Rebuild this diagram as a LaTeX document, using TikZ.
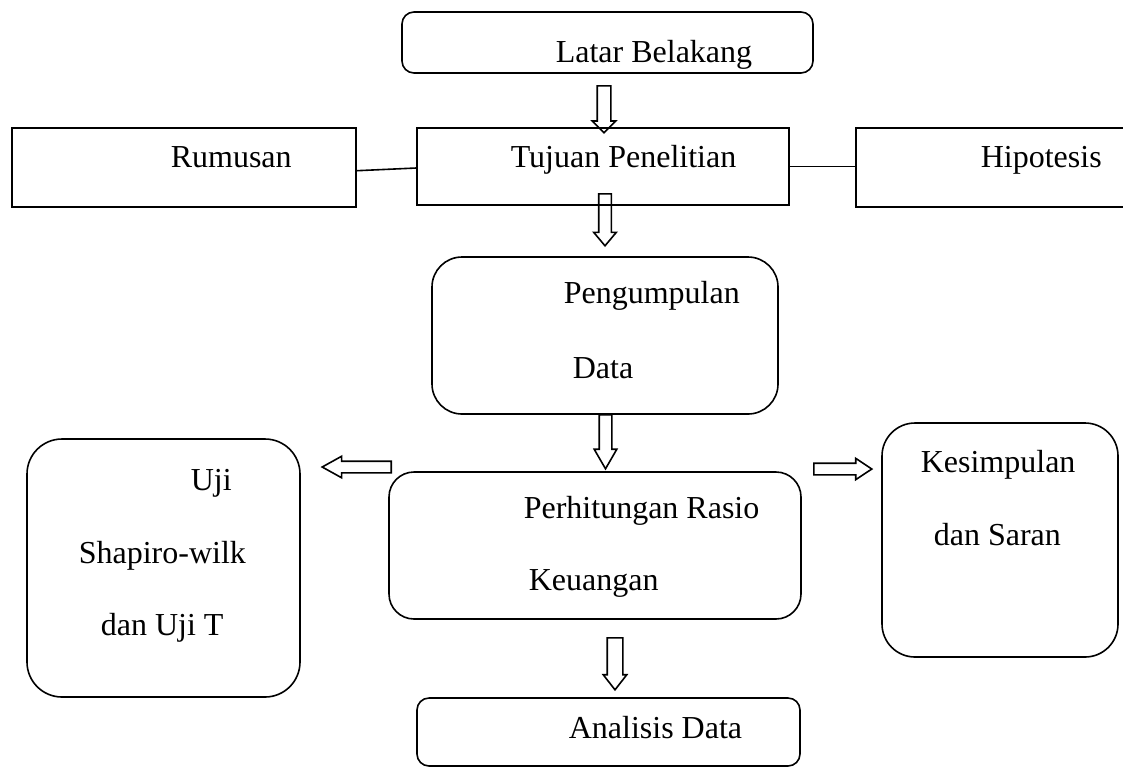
\documentclass[tikz,border=0pt]{standalone}
\usepackage{fontspec}
\setmainfont{Liberation Serif}
\usetikzlibrary{shapes.arrows,fit}

\begin{document}
\begin{tikzpicture}[x=0.5pt,y=-0.5pt,line width=0.8pt,
  box/.style={draw,inner sep=0pt},
  rbox/.style={box,rounded corners=#1},
  txt/.style={inner sep=0pt,anchor=base west,font=\fontsize{16}{19}\selectfont},
  harrow/.style={draw,single arrow,inner xsep=0pt,inner ysep=2.75pt,
    single arrow head extend=2.5pt,anchor=tail}]
%% Frame
\useasboundingbox (0,0) rectangle (1123,767);
\clip (0,0) rectangle (1123,767);
%% Boxes
\node[rbox=6pt, fit={(402,12) (813,73)}] (lat) {};
\node[box, fit={(12,128) (356,207)}] (rum) {};
\node[box, fit={(417,128) (789,205)}] (tuj) {};
\node[box, fit={(856,128) (1135,207)}] (hip) {};
\node[rbox=15pt, fit={(432,257) (778,414)}] (pgd) {};
\node[rbox=17.5pt, fit={(27,439) (300,697)}] (uji) {};
\node[rbox=12.5pt, fit={(389,472) (801,619)}] (rsk) {};
\node[rbox=16.5pt, fit={(882,423) (1118,657)}] (ksm) {};
\node[rbox=6pt, fit={(417,698) (800,766)}] (ana) {};
%% Texts
\node[txt] (tlat) at (555,62) {Latar Belakang};
\node[txt] (trum) at (170,167) {Rumusan};
\node[txt] (ttuj) at (510,167) {Tujuan Penelitian};
\node[txt] (thip) at (980,167) {Hipotesis};
\node[txt] (tpgd1) at (563,303) {Pengumpulan};
\node[txt] (tpgd2) at (572,378) {Data};
\node[txt] (tuji1) at (190,490) {Uji};
\node[txt] (tuji2) at (78,563) {Shapiro-wilk};
\node[txt] (tuji3) at (100,635) {dan Uji T};
\node[txt] (trsk1) at (523,518) {Perhitungan Rasio};
\node[txt] (trsk2) at (528,590) {Keuangan};
\node[txt] (tksm1) at (920,472) {Kesimpulan};
\node[txt] (tksm2) at (933,545) {dan Saran};
\node[txt] (tana) at (568,738) {Analisis Data};
%% Lines
\draw ([yshift=-1.6pt]rum.east) -- ([yshift=-0.75pt]tuj.west);
\draw (tuj.east) -- (hip.west |- tuj.east);
%% Hollow arrows
\node[harrow, rotate=-90, minimum height=23.5pt, inner ysep=3pt,
  single arrow tip angle=90] (ar1) at (604,85) {};
\node[harrow, rotate=-90, minimum height=26pt,
  single arrow tip angle=80] (ar2) at (605,193) {};
\node[harrow, rotate=-90, minimum height=27pt,
  single arrow tip angle=60] (ar3) at (605.5,414) {};
\node[harrow, rotate=-90, minimum height=26pt, inner ysep=3.5pt,
  single arrow head extend=2pt, single arrow tip angle=76] (ar4) at (615,637) {};
\node[harrow, rotate=180, minimum height=34.5pt, inner ysep=2.5pt,
  single arrow tip angle=58] (ar5) at (392,467) {};
\node[harrow, minimum height=29pt, inner ysep=2.5pt,
  single arrow head extend=2.4pt, single arrow tip angle=67] (ar6) at (813,469) {};
\end{tikzpicture}
\end{document}
